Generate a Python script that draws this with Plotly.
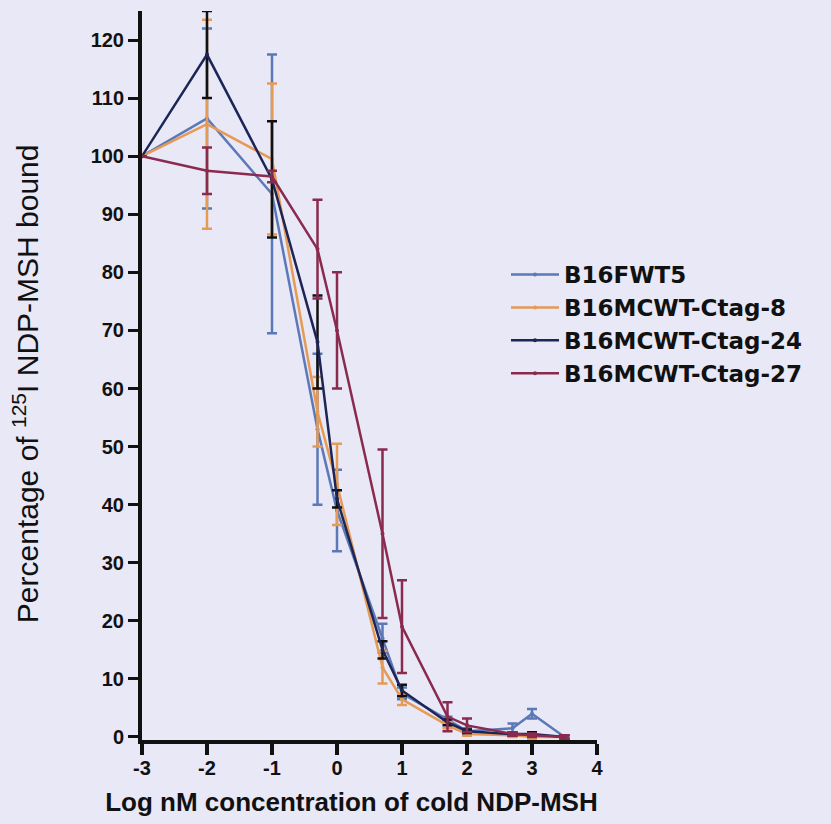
import plotly.graph_objects as go

x_log = [-3, -2, -1, -0.3, 0, 0.7, 1, 1.7, 2, 2.7, 3, 3.5]

names = ["B16FWT5", "B16MCWT-Ctag-8", "B16MCWT-Ctag-24", "B16MCWT-Ctag-27"]

fwt5 = [100, 106.5, 93.5, 53, 39, 17, 7.5, 3, 1, 1.5, 4, 0]
fwt5_err = [0, 15.5, 24, 13, 7, 2.5, 1, 0.5, 0.5, 0.8, 0.8, 0.3]

ctag8 = [100, 105.5, 99.5, 56, 43.5, 12, 6.5, 2, 0.5, 0.3, 0, 0]
ctag8_err = [0, 18, 13, 6, 7, 2.8, 1, 0.5, 0.3, 0.3, 0.3, 0.3]

ctag24 = [100, 117.5, 96, 68, 41, 15, 8, 2.5, 1, 0.5, 0.5, 0]
ctag24_err = [0, 7.5, 10, 8, 1.5, 1.5, 1, 0.5, 0.3, 0.3, 0.3, 0.3]

ctag27 = [100, 97.5, 96.5, 84, 70, 35, 19, 3.5, 2, 0.5, 0.3, 0]
ctag27_err = [0, 4, 1, 8.5, 10, 14.5, 8, 2.5, 1.2, 0.3, 0.3, 0.3]

x_ticks = [-3, -2, -1, 0, 1, 2, 3, 4]
x_tick_text = ["-3", "-2", "-1", "0", "1", "2", "3", "4"]
y_ticks = list(range(0, 121, 10))

series = [fwt5, ctag8, ctag24, ctag27]
errors = [fwt5_err, ctag8_err, ctag24_err, ctag27_err]
line_colors = ["#5b78b8", "#e59a55", "#1c2556", "#8a2a4f"]
err_colors = ["#5b78b8", "#e59a55", "#111111", "#8a2a4f"]

fig = go.Figure()
for name, ys, es, lc, ec in zip(names, series, errors, line_colors, err_colors):
    fig.add_trace(go.Scatter(
        x=x_log, y=ys, name=name, mode="lines+markers",
        line=dict(color=lc, width=2.5),
        marker=dict(color=lc, size=4),
        error_y=dict(type="data", array=es, visible=True, color=ec,
                     thickness=2.5, width=5),
    ))

bg = "#e8e8f6"
ink = "#111111"
fig.update_layout(
    width=831, height=824,
    paper_bgcolor=bg, plot_bgcolor=bg,
    margin=dict(l=142, r=234, t=11, b=84),
    font=dict(family="Liberation Sans, Arial, sans-serif", color=ink),
    showlegend=True,
    legend=dict(x=0.80, y=0.668, xanchor="left", yanchor="top",
                bgcolor="rgba(0,0,0,0)", traceorder="normal",
                font=dict(size=23, family="DejaVu Sans", weight="bold"),
                itemwidth=48),
    xaxis=dict(
        range=[-3, 4], tickvals=x_ticks, ticktext=x_tick_text,
        showgrid=False, zeroline=False, showline=True, linecolor=ink,
        linewidth=4, ticks="outside", ticklen=11, tickwidth=3.5,
        tickcolor=ink, tickfont=dict(size=20, weight="bold"),
        ticklabelstandoff=-4,
        title=dict(text="<b>Log nM concentration of cold NDP-MSH</b>" + "&nbsp;" * 5,
                   font=dict(size=26), standoff=16),
    ),
    yaxis=dict(
        range=[-0.52, 125], tickvals=y_ticks,
        showgrid=False, zeroline=False, showline=True, linecolor=ink,
        linewidth=4, ticks="outside", ticklen=10, tickwidth=3,
        tickcolor=ink, tickfont=dict(size=20, weight="bold"),
        title=dict(text="Percentage of <sup>125</sup>I NDP-MSH bound" + "&nbsp;" * 2,
                   font=dict(size=30), standoff=44),
    ),
)

fig.write_html("out.html")
